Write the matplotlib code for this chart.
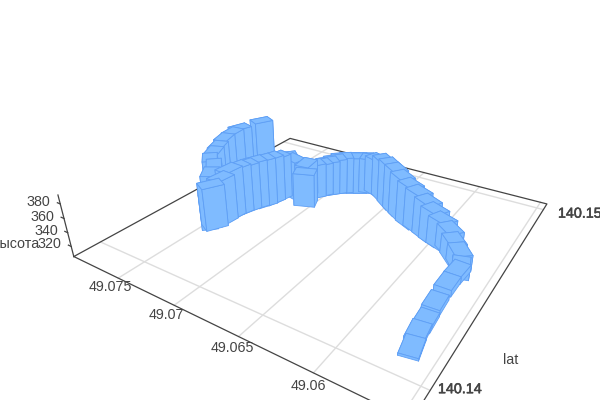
import numpy as np
import matplotlib
matplotlib.use('Agg')
import matplotlib.pyplot as plt
import matplotlib.patheffects as pe
from mpl_toolkits.mplot3d import proj3d
from mpl_toolkits.mplot3d.art3d import Poly3DCollection

plt.rcParams['font.family'] = ['Liberation Sans', 'DejaVu Sans']

# track data
lon = [49.05653, 49.05676, 49.05681, 49.05694, 49.05701, 49.05696, 49.05691, 49.05731, 49.05795, 49.05855,
       49.05926, 49.05999, 49.06068, 49.06164, 49.06244, 49.06340, 49.06421, 49.06504, 49.06599, 49.06681,
       49.06739, 49.06788, 49.06836, 49.06885, 49.06934, 49.06973, 49.07012, 49.07050, 49.07079, 49.07117,
       49.07060, 49.07209, 49.07277, 49.07291, 49.07307, 49.07330, 49.07363, 49.07385, 49.07406, 49.07417,
       49.07418, 49.07431, 49.07472, 49.07581, 49.07643, 49.07738, 49.07795, 49.07816, 49.07875, 49.07895,
       49.07897, 49.07806]
lat = [140.14103, 140.14161, 140.14211, 140.14291, 140.14385, 140.14456, 140.14476, 140.14507, 140.14533, 140.14568,
       140.14582, 140.14596, 140.14612, 140.14637, 140.14652, 140.14680, 140.14707, 140.14735, 140.14772, 140.14795,
       140.14797, 140.14782, 140.14768, 140.14754, 140.14739, 140.14718, 140.14696, 140.14675, 140.14647, 140.14626,
       140.14580, 140.14609, 140.14607, 140.14565, 140.14532, 140.14498, 140.14470, 140.14437, 140.14405, 140.14368,
       140.14326, 140.14282, 140.14278, 140.14353, 140.14405, 140.14432, 140.14482, 140.14516, 140.14582, 140.14641,
       140.14686, 140.14771]
alt = [308, 309, 310, 312, 314, 315, 318, 328, 333, 338, 345, 352, 358, 362, 366, 369, 372, 372, 368, 362,
       360, 362, 362, 362, 362, 360, 358, 356, 358, 360, 356, 366, 368, 373, 376, 377, 377, 376, 377, 378,
       372, 368, 358, 367, 369, 370, 371, 374, 375, 376, 377, 381]

lon_ticks = [49.075, 49.07, 49.065, 49.06, 49.055]
lon_labels = ['49.075', '49.07', '49.065', '49.06']
lat_ticks = [140.14, 140.15]
alt_ticks = [320, 340, 360, 380]

lon_lim = (49.0795, 49.0545)
lat_lim = (140.139, 140.1505)
alt_lim = (305, 395)
aspect = (0.9895, 0.9789, 0.1926)

bar_len = 0.065
bar_wid = 0.045
fill = '#7fbbff'
edge = '#5f9ff5'
dark = '#444444'
grid = '#dddddd'

fig = plt.figure(figsize=(6, 4), dpi=100)
ax = fig.add_axes([0.2055, -0.0109, 400 / 600, 1], projection='3d')
ax.set_xlim(*lon_lim, view_margin=0)
ax.set_ylim(*lat_lim, view_margin=0)
ax.set_zlim(*alt_lim, view_margin=0)
ax.set_xticks([])
ax.set_yticks([])
ax.set_zticks([])
ax.view_init(28.4583, -57.3344)
ax.set_proj_type('persp', focal_length=np.exp(-1.3371))
ax.set_box_aspect(aspect, zoom=1.2119)
ax.set_axis_off()


def label(x, y, z, s, **kw):
    # 3D point to the flat plane, so the text stays a plain 2D text
    px, py, _ = proj3d.proj_transform(x, y, z, ax.get_proj())
    ax.text2D(px, py, s, transform=ax.transData, fontsize=10.3, color=dark, va='center', clip_on=False, **kw)


# bars are turned along the track, sized in box units
sx = aspect[0] / (lon_lim[1] - lon_lim[0])
sy = aspect[1] / (lat_lim[1] - lat_lim[0])
n = len(lon)
for i in range(n):
    a, b = max(i - 1, 0), min(i + 1, n - 1)
    dx = (lon[b] - lon[a]) * sx
    dy = (lat[b] - lat[a]) * sy
    d = np.hypot(dx, dy)
    dx, dy = dx / d, dy / d
    foot = []
    for s, t in [(-1, -1), (1, -1), (1, 1), (-1, 1)]:
        ux = s * bar_len / 2 * dx - t * bar_wid / 2 * dy
        uy = s * bar_len / 2 * dy + t * bar_wid / 2 * dx
        foot.append((lon[i] + ux / sx, lat[i] + uy / sy))
    low = [(p[0], p[1], alt_lim[0]) for p in foot]
    top = [(p[0], p[1], alt[i]) for p in foot]
    faces = [top]
    for k in range(4):
        faces.append([low[k], low[(k + 1) % 4], top[(k + 1) % 4], top[k]])
    ax.add_collection3d(Poly3DCollection(faces, facecolor=fill, edgecolor=edge, linewidth=0.6, clip_on=False))

# floor grid
z0 = alt_lim[0]
for v in lon_ticks:
    ax.plot([v, v], lat_lim, [z0, z0], color=grid, lw=1, zorder=1, clip_on=False)
for v in lat_ticks:
    ax.plot(lon_lim, [v, v], [z0, z0], color=grid, lw=1, zorder=1, clip_on=False)

# axis lines
cx = [lon_lim[0], lon_lim[0], lon_lim[1], lon_lim[1], lon_lim[0]]
cy = [lat_lim[0], lat_lim[1], lat_lim[1], lat_lim[0], lat_lim[0]]
ax.plot(cx, cy, [z0] * 5, color=dark, lw=0.9, zorder=2, clip_on=False)
ax.plot([lon_lim[0]] * 2, [lat_lim[0]] * 2, [z0, 392], color=dark, lw=0.9, zorder=2, clip_on=False)
for v in alt_ticks:
    ax.plot([lon_lim[0], lon_lim[0] + 0.0003], [lat_lim[0]] * 2, [v, v], color=dark, lw=0.9, zorder=2, clip_on=False)

# tick labels
for v, s in zip(lon_ticks, lon_labels):
    label(v - 0.0003, lat_lim[0] - 0.0004, z0, s, ha='center')
bold = [pe.withStroke(linewidth=0.4, foreground=dark)]
label(lon_lim[1] - 0.0012, 140.1404, z0, '140.14', ha='center', path_effects=bold)
label(lon_lim[1] - 0.0025, 140.1504, z0, '140.15', ha='center', path_effects=bold)
for v in alt_ticks:
    label(lon_lim[0] + 0.0011, lat_lim[0], v - 4, str(v), ha='right')

fig.text(39 / 600, 1 - 244 / 400, 'высота', fontsize=10.3, color=dark, ha='right', va='center')
fig.text(511 / 600, 1 - 360 / 400, 'lat', fontsize=10.3, color=dark, ha='center', va='center')

fig.savefig('out.png', dpi=100)
